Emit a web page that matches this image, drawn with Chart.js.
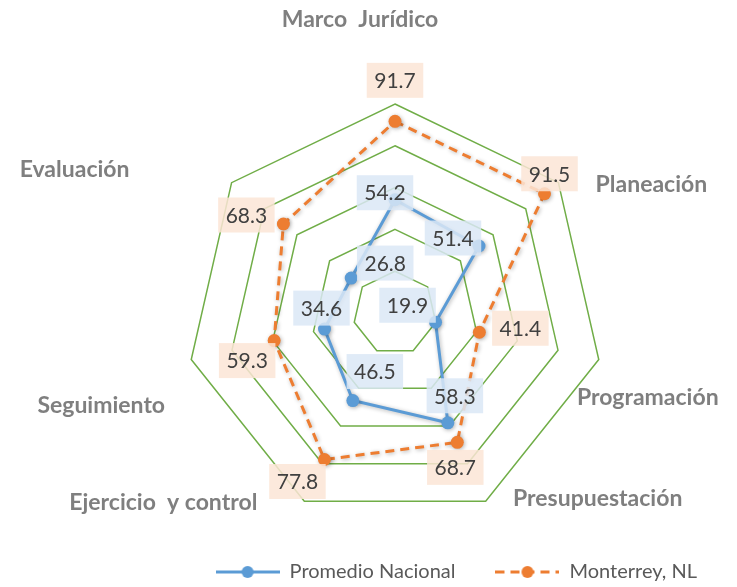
<!DOCTYPE html>
<html>
<head>
<meta charset="utf-8">
<script src="https://cdn.jsdelivr.net/npm/chart.js@4"></script>
<style>
  html, body { margin: 0; padding: 0; background: #fff; }
  #wrap { width: 737px; height: 587px; }
</style>
</head>
<body>
<div id="wrap"><canvas id="myChart"></canvas></div>
<script>
const categorias = ['Marco  Jurídico', 'Planeación', 'Programación', 'Presupuestación', 'Ejercicio  y control', 'Seguimiento', 'Evaluación']
const promedioNacional = [54.2, 51.4, 19.9, 58.3, 46.5, 34.6, 26.8]
const monterrey = [91.7, 91.5, 41.4, 68.7, 77.8, 59.3, 68.3]
const escala = [0, 20, 40, 60, 80, 100]

const azul = '#5b9bd5'
const naranja = '#ed7d31'

// donde va cada etiqueta, relativo al punto (estilo Excel)
const despEtiquetas = [
  [[-10, -7], [-26, -8], [-28, -17], [7, -27], [22, -29], [-3, -21], [34, -15]],
  [[0, -41], [5, -20], [41, -4], [-2, 25], [-27, 22], [-27, 20], [-37, -9]],
]
const fondos = ['rgba(218, 232, 246, 0.85)', 'rgba(251, 229, 214, 0.85)']

// posicion de los nombres de categoria respecto al vertice exterior
const despCategorias = [[-35, -84], [93, 2], [49, 38], [112, -3], [-141, 1], [-90, 46], [-157, -13]]

function marcador(color, dash) {
  const c = document.createElement('canvas')
  c.width = 64
  c.height = 14
  const g = c.getContext('2d')
  g.strokeStyle = color
  g.lineWidth = 3
  g.setLineDash(dash)
  g.beginPath()
  g.moveTo(0, 7)
  g.lineTo(64, 7)
  g.stroke()
  g.fillStyle = color
  g.beginPath()
  g.arc(32, 7, 6, 0, Math.PI * 2)
  g.fill()
  return c
}
const marcadores = [marcador(azul, []), marcador(naranja, [9, 6])]

const sombra = {
  id: 'sombra',
  beforeDatasetDraw(chart) {
    const c = chart.ctx
    c.save()
    c.shadowColor = 'rgba(0, 0, 0, 0.3)'
    c.shadowBlur = 4
    c.shadowOffsetX = 1
    c.shadowOffsetY = 1
  },
  afterDatasetDraw(chart) {
    chart.ctx.restore()
  },
}

const etiquetas = {
  id: 'etiquetas',
  afterDatasetsDraw(chart) {
    const ctx = chart.ctx
    ctx.save()
    ctx.font = '21px Lato'
    ctx.textAlign = 'center'
    ctx.textBaseline = 'middle'
    chart.data.datasets.forEach((ds, i) => {
      chart.getDatasetMeta(i).data.forEach((pt, j) => {
        const [dx, dy] = despEtiquetas[i][j]
        const txt = ds.data[j].toFixed(1)
        const w = ctx.measureText(txt).width + 15
        const h = 35
        const x = pt.x + dx
        const y = pt.y + dy
        ctx.fillStyle = fondos[i]
        ctx.fillRect(x - w / 2, y - h / 2, w, h)
        ctx.fillStyle = '#404040'
        ctx.fillText(txt, x, y + 1)
      })
    })
    ctx.restore()
  },
}

const nombres = {
  id: 'nombres',
  afterDraw(chart) {
    const ctx = chart.ctx
    const r = chart.scales.r
    ctx.save()
    ctx.font = 'bold 23px Lato'
    ctx.fillStyle = '#7f7f7f'
    ctx.textAlign = 'center'
    ctx.textBaseline = 'middle'
    categorias.forEach((c, i) => {
      const p = r.getPointPosition(i, r.drawingArea)
      ctx.fillText(c, p.x + despCategorias[i][0], p.y + despCategorias[i][1])
    })
    ctx.restore()
  },
}

new Chart(document.getElementById('myChart'), {
  type: 'radar',
  data: {
    labels: categorias,
    datasets: [
      {
        label: 'Promedio Nacional',
        data: promedioNacional,
        fill: false,
        borderColor: azul,
        backgroundColor: azul,
        borderWidth: 3,
        pointRadius: 6.5,
        pointBorderWidth: 0,
        pointBackgroundColor: azul,
      },
      {
        label: 'Monterrey, NL',
        data: monterrey,
        fill: false,
        borderColor: naranja,
        backgroundColor: naranja,
        borderWidth: 3,
        borderDash: [9, 6],
        pointRadius: 6.5,
        pointBorderWidth: 0,
        pointBackgroundColor: naranja,
      },
    ],
  },
  options: {
    responsive: true,
    maintainAspectRatio: false,
    animation: false,
    layout: { padding: { left: 53, right: 0, top: 104, bottom: -5 } },
    scales: {
      r: {
        min: escala[0],
        max: escala[escala.length - 1],
        ticks: { display: false, stepSize: escala[1] - escala[0] },
        pointLabels: { display: false },
        angleLines: { display: false },
        grid: { color: '#70ad47', lineWidth: 1.5 },
      },
    },
    plugins: {
      tooltip: { enabled: false },
      legend: {
        position: 'bottom',
        align: 'end',
        labels: {
          usePointStyle: true,
          pointStyleWidth: 64,
          padding: 40,
          color: '#595959',
          font: { family: 'Lato', size: 20 },
          generateLabels: (chart) => chart.data.datasets.map((ds, i) => ({
            text: ds.label,
            pointStyle: marcadores[i],
            fillStyle: ds.borderColor,
            strokeStyle: ds.borderColor,
            lineWidth: 0,
            fontColor: '#595959',
            hidden: false,
            datasetIndex: i,
          })),
        },
      },
    },
  },
  plugins: [sombra, etiquetas, nombres],
})
</script>
</body>
</html>
